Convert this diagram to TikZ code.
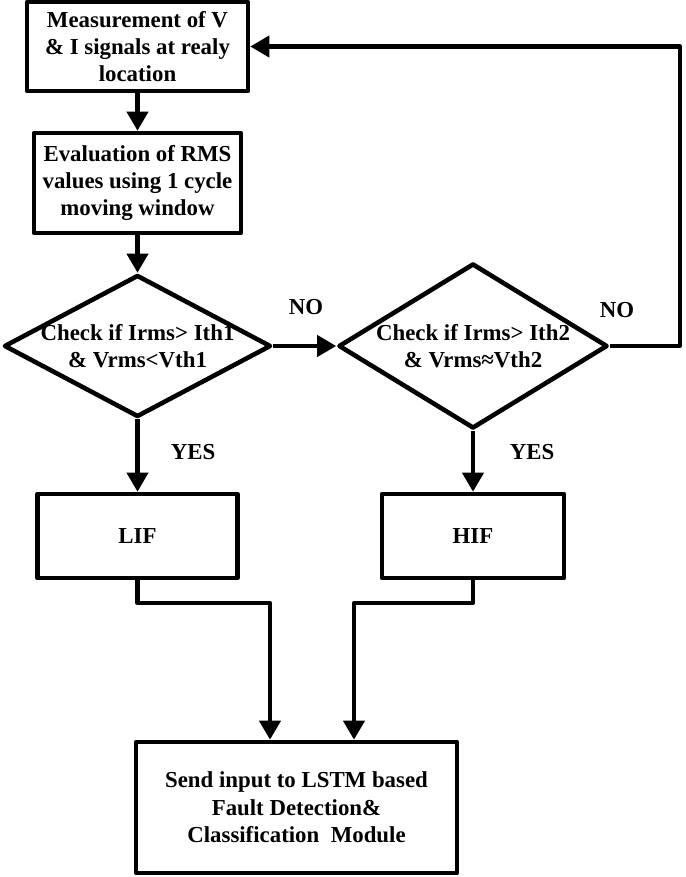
\documentclass[tikz,border=0pt]{standalone}
\usepackage{fontspec}
\setmainfont{Liberation Serif}
\usepackage{tikz}
\usetikzlibrary{arrows.meta,shapes,positioning}
\tikzstyle{arrow} = [line width=2.3pt,-{Triangle[length=0.38cm,width=0.42cm]}]
\tikzstyle{process} = [rectangle, draw, line width=2.6pt, align=center, inner sep=0pt]
\tikzstyle{decision} = [diamond, draw, line width=2.6pt, inner sep=0pt]
\tikzstyle{dtext} = [align=center]

\begin{document}
\begin{tikzpicture}[font=\fontsize{13}{15.6}\selectfont\bfseries, line join=round]
    \useasboundingbox (0,0) rectangle (13.7,17.54);

    % Measurement and RMS boxes
    \node[process, minimum width=4.42cm, minimum height=1.78cm] (meas) at (2.75,16.61) {Measurement of V\\\& I signals at realy\\location};
    \node[process, minimum width=4.14cm, minimum height=2.0cm] (rms) at (2.75,13.88) {Evaluation of RMS\\values using 1 cycle\\moving window};

    % Decisions
    \node[decision, minimum width=5.34cm, minimum height=2.84cm,
          label={[dtext]center:{Check if Irms> Ith1\\\& Vrms<Vth1}}] (chk1) at (2.75,10.62) {};
    \node[decision, minimum width=5.38cm, minimum height=3.30cm,
          label={[dtext]center:{Check if Irms> Ith2\\\& Vrms≈Vth2}}] (chk2) at (9.46,10.62) {};

    % Fault type boxes
    \node[process, minimum width=4.0cm, minimum height=1.68cm] (lif) at (2.75,6.82) {LIF};
    \node[process, minimum width=3.64cm, minimum height=1.68cm] (hif) at (9.46,6.82) {HIF};

    % LSTM module
    \node[process, minimum width=6.42cm, minimum height=2.62cm] (lstm) at (5.93,1.39) {Send input to LSTM based\\Fault Detection\&\\Classification~ Module};

    % Labels
    \node (no1) at (6.12,11.40) {NO};
    \node (no2) at (12.34,11.34) {NO};
    \node (yes1) at (3.86,8.50) {YES};
    \node (yes2) at (10.64,8.50) {YES};

    \coordinate (loop) at (13.6,16.61);
    \coordinate (inL) at (5.40,5.48);
    \coordinate (inR) at (7.08,5.48);

    % Arrows
    \draw[arrow] (meas) -- (rms);
    \draw[arrow] (rms) -- (chk1);
    \draw[arrow] (chk1) -- (chk2);
    \draw[arrow] (chk1) -- (lif);
    \draw[arrow] (chk2) -- (hif);
    \draw[arrow] (chk2.east) -| (loop) -- (meas.east);
    \draw[arrow] (lif.south) |- (inL) -- (inL |- lstm.north);
    \draw[arrow] (hif.south) |- (inR) -- (inR |- lstm.north);
\end{tikzpicture}
\end{document}
